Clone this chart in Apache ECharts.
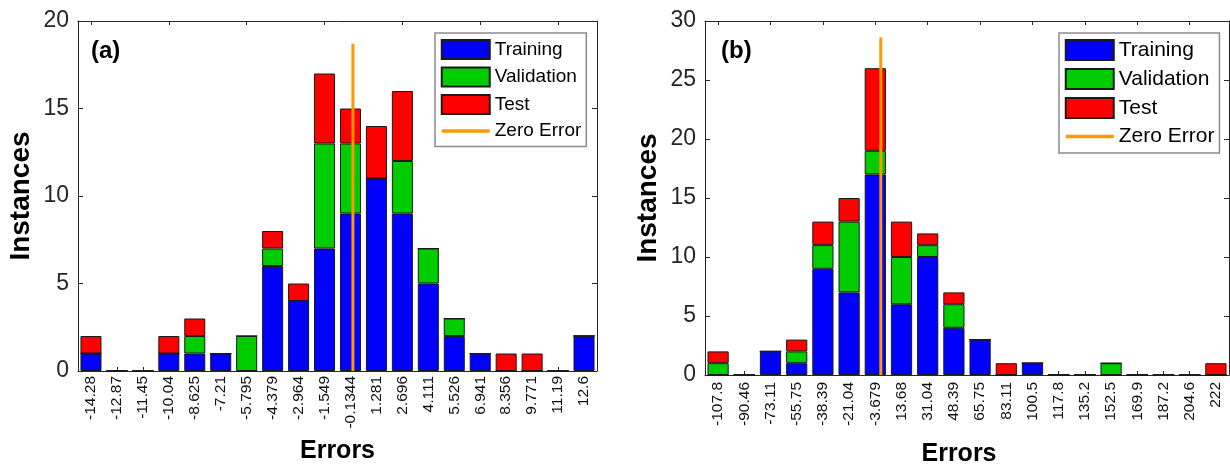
<!DOCTYPE html>
<html>
<head>
<meta charset="utf-8">
<style>
  html, body { margin: 0; padding: 0; background: #fff; }
  #chart-container { width: 1230px; height: 466px; }
</style>
<script src="https://cdn.jsdelivr.net/npm/echarts@6/dist/echarts.min.js"></script>
</head>
<body>
<div id="chart-container"></div>
<script>
// panel (a)
const binsA = ["-14.28", "-12.87", "-11.45", "-10.04", "-8.625", "-7.21", "-5.795", "-4.379", "-2.964", "-1.549",
  "-0.1344", "1.281", "2.696", "4.111", "5.526", "6.941", "8.356", "9.771", "11.19", "12.6"];
const trainA = [1, 0, 0, 1, 1, 1, 0, 6, 4, 7, 9, 11, 9, 5, 2, 1, 0, 0, 0, 2];
const validA = [0, 0, 0, 0, 1, 0, 2, 1, 0, 6, 4, 0, 3, 2, 1, 0, 0, 0, 0, 0];
const testA = [1, 0, 0, 1, 1, 0, 0, 1, 1, 4, 2, 3, 4, 0, 0, 0, 1, 1, 0, 0];
const zeroTopA = 18.7;

// panel (b)
const binsB = ["-107.8", "-90.46", "-73.11", "-55.75", "-38.39", "-21.04", "-3.679", "13.68", "31.04", "48.39",
  "65.75", "83.11", "100.5", "117.8", "135.2", "152.5", "169.9", "187.2", "204.6", "222"];
const trainB = [0, 0, 2, 1, 9, 7, 17, 6, 10, 4, 3, 0, 1, 0, 0, 0, 0, 0, 0, 0];
const validB = [1, 0, 0, 1, 2, 6, 2, 4, 1, 2, 0, 0, 0, 0, 0, 1, 0, 0, 0, 0];
const testB = [1, 0, 0, 1, 2, 2, 7, 3, 1, 1, 0, 1, 0, 0, 0, 0, 0, 0, 0, 1];
const zeroTopB = 28.6;

const seriesNames = ["Training", "Validation", "Test", "Zero Error"];
const colors = ["#0000ff", "#00cc00", "#ff0000", "#ff9900"];

(() => {
  var dom = document.getElementById("chart-container");
  var chart = echarts.init(dom, null, { renderer: "canvas" });

  const font = "Liberation Sans, Arial, sans-serif";
  const axisColor = "#262626";

  const grids = [];
  const xAxes = [];
  const yAxes = [];
  const series = [];

  const line = { show: true, onZero: false, lineStyle: { color: axisColor, width: 1 } };

  function panel(p, bins, train, valid, test, yMax, zeroTop, box) {
    grids.push({ left: box.left, top: box.top, width: box.width, height: box.height, outerBoundsMode: "none" });
    const first = parseFloat(bins[0]);
    const last = parseFloat(bins[bins.length - 1]);
    const step = (last - first) / (bins.length - 1);
    const xi = xAxes.length;
    const yi = yAxes.length;
    xAxes.push({
      type: "category", gridIndex: p, data: bins, position: "bottom",
      axisLine: line,
      axisTick: { show: true, inside: true, alignWithLabel: true, length: 4, lineStyle: { color: axisColor } },
      axisLabel: { rotate: 90, fontSize: 15.5, fontFamily: font, color: "#111", margin: box.labelMargin, interval: 0 },
      name: "Errors", nameLocation: "middle", nameGap: box.nameGap,
      nameTextStyle: { fontSize: 25, fontWeight: "bold", fontFamily: font, color: "#000", padding: box.namePad },
    });
    xAxes.push({
      type: "category", gridIndex: p, data: bins, position: "top",
      axisLine: line,
      axisTick: { show: true, inside: true, alignWithLabel: true, length: 4, lineStyle: { color: axisColor } },
      axisLabel: { show: false },
    });
    xAxes.push({
      type: "value", gridIndex: p, show: false,
      min: first - step / 2, max: last + step / 2,
      axisLine: { show: false, onZero: false },
      splitLine: { show: false },
    });
    yAxes.push({
      type: "value", gridIndex: p, min: 0, max: yMax, interval: 5, position: "left",
      axisLine: line,
      axisTick: { show: true, inside: true, length: 5, lineStyle: { color: axisColor } },
      axisLabel: { fontSize: 23, fontFamily: font, color: axisColor, margin: 9 },
      splitLine: { show: false },
      name: "Instances", nameLocation: "middle", nameGap: 43,
      nameTextStyle: { fontSize: 28, fontWeight: "bold", fontFamily: font, color: "#000" },
    });
    yAxes.push({
      type: "value", gridIndex: p, min: 0, max: yMax, interval: 5, position: "right",
      axisLine: line,
      axisTick: { show: true, inside: true, length: 5, lineStyle: { color: axisColor } },
      axisLabel: { show: false },
      splitLine: { show: false },
    });
    [train, valid, test].forEach((vals, k) => {
      series.push({
        name: seriesNames[k], type: "bar", stack: "p" + p,
        xAxisIndex: xi, yAxisIndex: yi, data: vals,
        barCategoryGap: "19%",
        itemStyle: { color: colors[k], borderColor: "#1a1a1a", borderWidth: 1 },
      });
    });
    series.push({
      name: seriesNames[3], type: "line",
      xAxisIndex: xi + 2, yAxisIndex: yi,
      data: [[0, 0], [0, zeroTop]],
      symbol: "none", z: 10,
      itemStyle: { color: colors[3] },
      lineStyle: { color: colors[3], width: 3 },
    });
  }

  panel(0, binsA, trainA, validA, testA, 20, zeroTopA,
    { left: 78, top: 21, width: 519, height: 350, labelMargin: 5, nameGap: 68, namePad: 0 });
  panel(1, binsB, trainB, validB, testB, 30, zeroTopB,
    { left: 705, top: 21, width: 524, height: 354, labelMargin: 7, nameGap: 67, namePad: [0, 16, 0, 0] });

  const legendData = [
    { name: "Training", icon: "rect" },
    { name: "Validation", icon: "rect" },
    { name: "Test", icon: "rect" },
    { name: "Zero Error", itemStyle: { opacity: 0, borderWidth: 0 }, lineStyle: { width: 3.5, color: colors[3] } },
  ];
  const legendBase = {
    orient: "vertical", data: legendData,
    borderColor: "#8c8c8c", borderWidth: 1.5, backgroundColor: "#fff",
    selectedMode: false, itemGap: 7,
  };

  const option = {
    animation: false,
    title: [
      { text: "(a)", left: 91, top: 39, padding: 0, textStyle: { fontSize: 24, fontWeight: "bold", fontFamily: font, color: "#000" } },
      { text: "(b)", left: 721, top: 39, padding: 0, textStyle: { fontSize: 24, fontWeight: "bold", fontFamily: font, color: "#000" } },
    ],
    legend: [
      Object.assign({}, legendBase, {
        left: 435, top: 33, padding: [6, 5, 6, 5],
        itemWidth: 48, itemHeight: 19, itemGap: 6.5,
        textStyle: { fontSize: 19, fontFamily: font, color: "#000" },
      }),
      Object.assign({}, legendBase, {
        left: 1059, top: 33, padding: [6, 5, 6, 5],
        itemWidth: 48, itemHeight: 20, itemGap: 7,
        textStyle: { fontSize: 21, fontFamily: font, color: "#000" },
      }),
    ],
    grid: grids,
    xAxis: xAxes,
    yAxis: yAxes,
    series: series,
  };
  chart.setOption(option);
  window.addEventListener("resize", chart.resize);
})();
</script>
</body>
</html>
